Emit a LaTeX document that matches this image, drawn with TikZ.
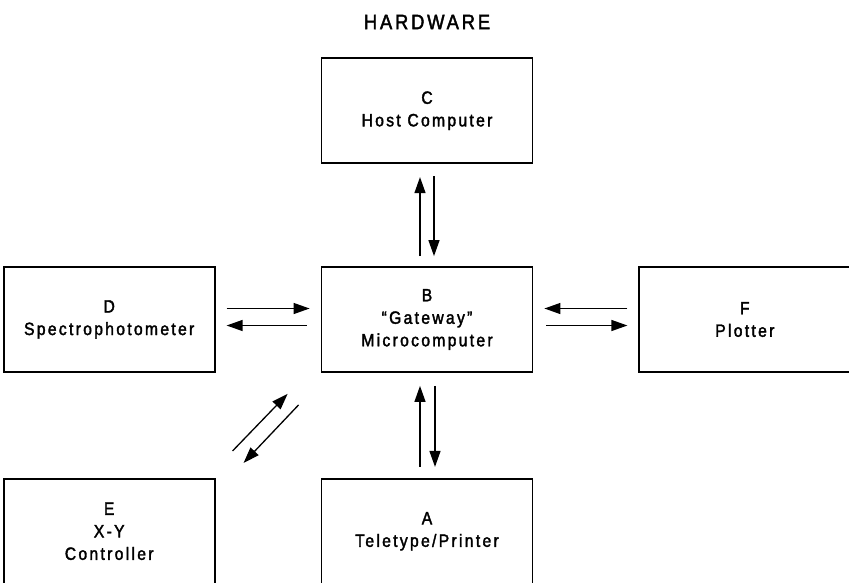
\documentclass[tikz,border=0pt]{standalone}
\usepackage{fontspec}
\setmainfont{Liberation Sans}[LetterSpace=13,FakeStretch=0.88,FakeBold=2]
\usetikzlibrary{arrows.meta}
\usetikzlibrary{positioning}

\begin{document}
\begin{tikzpicture}[x=1pt,y=-1pt,node distance=105pt,
  unit/.style={draw,line width=1.8pt,minimum width=211pt,minimum height=105pt,
    inner sep=0pt,align=center,font=\fontsize{17.8}{22.5}\selectfont},
  link/.style={line width=1.3pt,-{Triangle[length=16pt,width=11pt]}}]
  \useasboundingbox (0,0) rectangle (849,582);
  \node[font=\fontsize{21}{24}\selectfont] (title) at (427,22) {HARDWARE};
  % the gateway in the middle, everything else around it
  \node[unit] (B) at (427,319.5) {B\\“Gateway”\\Microcomputer};
  \node[unit,above=102pt of B] (C) {C\\Host Computer};
  \node[unit,left=of B] (D) {D\\Spectrophotometer};
  \node[unit,right=of B] (F) {F\\Plotter};
  \node[unit,below=of B] (A) {A\\Teletype/Printer};
  \node[unit,below=of D] (E) {E\\X-Y\\Controller};

  % C <-> B
  \draw[link] ([xshift=-7pt,yshift=10pt]B.north) -- ([xshift=-7pt,yshift=-13pt]C.south);
  \draw[link] ([xshift=7pt,yshift=-12pt]C.south) -- ([xshift=7pt,yshift=10pt]B.north);
  % B <-> A
  \draw[link] ([xshift=-7pt,yshift=11pt]A.north) -- ([xshift=-7pt,yshift=-13pt]B.south);
  \draw[link] ([xshift=8pt,yshift=-13pt]B.south) -- ([xshift=8pt,yshift=11pt]A.north);
  % D <-> B
  \draw[link] ([xshift=11pt,yshift=11pt]D.east) -- ([xshift=-11pt,yshift=11pt]B.west);
  \draw[link] ([xshift=-14pt,yshift=-6pt]B.west) -- ([xshift=11pt,yshift=-6pt]D.east);
  % F <-> B
  \draw[link] ([xshift=-11pt,yshift=11pt]F.west) -- ([xshift=11pt,yshift=11pt]B.east);
  \draw[link] ([xshift=13pt,yshift=-6pt]B.east) -- ([xshift=-11pt,yshift=-6pt]F.west);
  % E <-> B
  \draw[link] ([xshift=17pt,yshift=27pt]E.north east) -- ([xshift=-33pt,yshift=-21pt]B.south west);
  \draw[link] ([xshift=-22pt,yshift=-32pt]B.south west) -- ([xshift=28pt,yshift=15pt]E.north east);
\end{tikzpicture}
\end{document}
